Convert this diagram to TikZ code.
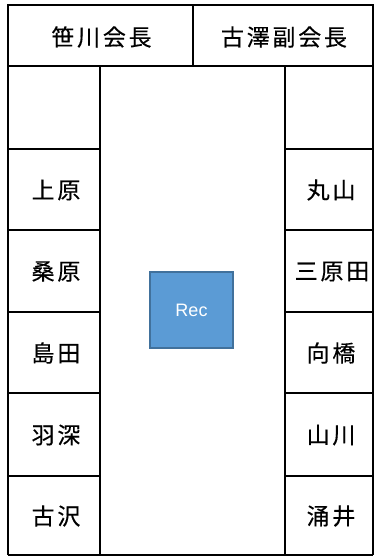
\documentclass[tikz,border=0pt]{standalone}
\usepackage{fontspec}
\setmainfont{Noto Sans CJK JP}[LetterSpace=12,FakeBold=0.3]
\newfontfamily\latinsans{Liberation Sans}
\definecolor{recfill}{HTML}{5B9BD5}
\definecolor{recdraw}{HTML}{41719C}
\begin{document}
\begin{tikzpicture}[x=1pt,y=-1pt,
  thickline/.style={line width=2.7pt},
  thinline/.style={line width=1.2pt},
  midline/.style={line width=1.8pt},
  lbl/.style={font=\fontsize{23}{27}\selectfont, inner sep=0pt},
  recbox/.style={draw=recdraw, fill=recfill, line width=2pt, minimum width=83pt, minimum height=76pt, text=white, font=\latinsans\fontsize{18}{20}\selectfont}]
\useasboundingbox (0,0) rectangle (375,556);
\fill[white] (0,0) rectangle (375,556);
% thin row lines
\draw[thinline] (8,149) -- (100,149);
\draw[thinline] (285,149) -- (373,149);
\draw[thinline] (8,312) -- (100,312);
\draw[thinline] (285,312) -- (373,312);
\draw[thinline] (8,476) -- (100,476);
\draw[thinline] (285,476) -- (373,476);
% thick row lines
\draw[thickline] (8,230) -- (100,230);
\draw[thickline] (285,230) -- (373,230);
\draw[thickline] (8,393) -- (100,393);
\draw[thickline] (285,393) -- (373,393);
% header bottom
\draw[midline] (8,66) -- (373,66);
% column lines
\draw[thickline] (100,66) -- (100,555);
\draw[thickline] (285,66) -- (285,555);
\draw[thickline] (193,5) -- (193,66);
% outer border
\draw[thinline] (8,555) -- (373,555);
\draw[thickline] (8,555) -- (8,5) -- (373,5) -- (373,555);
% header labels
\node[lbl] (kaicho) at (101.5,37) {笹川会長};
\node[lbl] (fukukaicho) at (284,37) {古澤副会長};
% left column
\node[lbl] (uehara) at (56,190) {上原};
\node[lbl] (kuwahara) at (56,271.5) {桑原};
\node[lbl] (shimada) at (56,353) {島田};
\node[lbl] (hanebuka) at (56,435) {羽深};
\node[lbl] (furusawa) at (56,516) {古沢};
% right column
\node[lbl] (maruyama) at (331,190) {丸山};
\node[lbl] (miharada) at (332,271.5) {三原田};
\node[lbl] (mukaihashi) at (331,353) {向橋};
\node[lbl] (yamakawa) at (331,435) {山川};
\node[lbl] (wakui) at (331,516) {涌井};
% Rec box
\node[recbox] (rec) at (191.5,310) {Rec};
\end{tikzpicture}
\end{document}
